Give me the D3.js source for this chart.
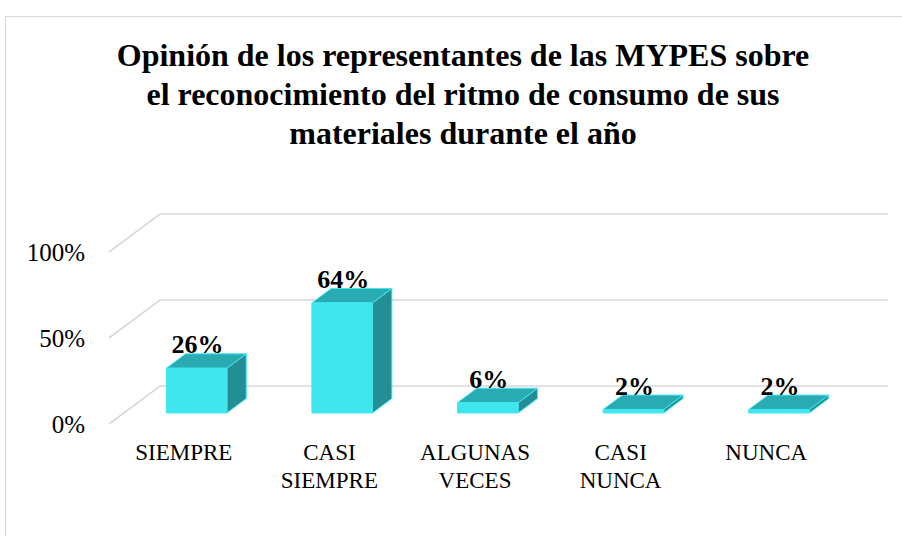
<!DOCTYPE html>
<html>
<head>
<meta charset="utf-8">
<script src="https://cdn.jsdelivr.net/npm/d3@7"></script>
<style>
  html, body { margin: 0; padding: 0; background: #ffffff; }
  svg { display: block; }
  text { font-family: "Liberation Serif", "Times New Roman", serif; fill: #000; }
</style>
</head>
<body>
<div id="chart"></div>
<script>
const titleLines = [
  "Opinión de los representantes de las MYPES sobre",
  "el reconocimiento del ritmo de consumo de sus",
  "materiales durante el año"
];
const categories = ["SIEMPRE", "CASI SIEMPRE", "ALGUNAS VECES", "CASI NUNCA", "NUNCA"];
const categoryLines = [["SIEMPRE"], ["CASI", "SIEMPRE"], ["ALGUNAS", "VECES"], ["CASI", "NUNCA"], ["NUNCA"]];
const values = [0.26, 0.64, 0.06, 0.02, 0.02];
const tickValues = [0, 0.5, 1];
const tickLabels = ["0%", "50%", "100%"];

const W = 902, H = 536;
const svg = d3.select("#chart").append("svg").attr("width", W).attr("height", H);

// chart border
svg.append("rect").attr("x", 5.5).attr("y", 16.5).attr("width", 1000).attr("height", 1000)
  .attr("fill", "#fff").attr("stroke", "#d9d9d9").attr("stroke-width", 1);

// geometry
const frontLeft = 109, frontRight = 837, frontBase = 424;
const depth = { dx: 51, dy: -38 };
const f0 = 0.29, f1 = 0.67;

const x = d3.scaleBand().domain(categories).range([frontLeft, frontRight]).padding(0);
const y = d3.scaleLinear().domain([0, 1]).range([frontBase, frontBase - 172]);
const barW = x.bandwidth() * 0.416;

// gridlines: side diagonal + back wall
const grid = svg.append("g").attr("stroke", "#d9d9d9").attr("stroke-width", 1.6).attr("fill", "none");
tickValues.forEach(t => {
  const yf = y(t);
  grid.append("path").attr("d", `M${frontLeft},${yf} L${frontLeft + depth.dx},${yf + depth.dy} L${frontRight + depth.dx},${yf + depth.dy}`);
});

// tick labels
svg.append("g").selectAll("text").data(tickValues).join("text")
  .attr("x", 85).attr("y", d => y(d)).attr("dy", "0.35em")
  .attr("text-anchor", "end").attr("font-size", 25)
  .text((d, i) => tickLabels[i]);

// bars (3D)
const cFront = "#3fe6ee", cTop = "#2aaab2", cSide = "#238f94", cEdge = "#40e8f0";
const bars = svg.append("g");
categories.forEach((c, i) => {
  const v = values[i];
  const x0 = x(c) + (x.bandwidth() - barW) / 2 + f0 * depth.dx;
  const x1 = x0 + barW;
  const yb = y(0) + f0 * depth.dy;
  const yt = y(v) + f0 * depth.dy;
  const ddx = (f1 - f0) * depth.dx, ddy = (f1 - f0) * depth.dy;
  const g = bars.append("g").attr("stroke", cEdge).attr("stroke-width", 1).attr("stroke-linejoin", "round");
  g.append("path").attr("fill", cSide)
    .attr("d", `M${x1},${yb} L${x1 + ddx},${yb + ddy} L${x1 + ddx},${yt + ddy} L${x1},${yt} Z`);
  g.append("path").attr("fill", cTop)
    .attr("d", `M${x0},${yt} L${x1},${yt} L${x1 + ddx},${yt + ddy} L${x0 + ddx},${yt + ddy} Z`);
  g.append("rect").attr("fill", cFront).attr("x", x0).attr("y", yt).attr("width", barW).attr("height", yb - yt);
  svg.append("text").attr("x", (x0 + x1) / 2 + 1).attr("y", yt - 15)
    .attr("text-anchor", "middle").attr("font-size", 26).attr("font-weight", "bold")
    .text(d3.format(".0%")(v));
});

// category labels
const catG = svg.append("g");
categories.forEach((c, i) => {
  const cx = x(c) + x.bandwidth() / 2 + 2;
  const t = catG.append("text").attr("x", cx).attr("y", 460)
    .attr("text-anchor", "middle").attr("font-size", 23);
  categoryLines[i].forEach((ln, j) => {
    t.append("tspan").attr("x", cx).attr("y", 460 + j * 28).text(ln);
  });
});

// title
const title = svg.append("text").attr("text-anchor", "middle").attr("font-size", 32).attr("font-weight", "bold");
titleLines.forEach((ln, j) => {
  title.append("tspan").attr("x", 463).attr("y", 66 + j * 39).text(ln);
});
</script>
</body>
</html>
